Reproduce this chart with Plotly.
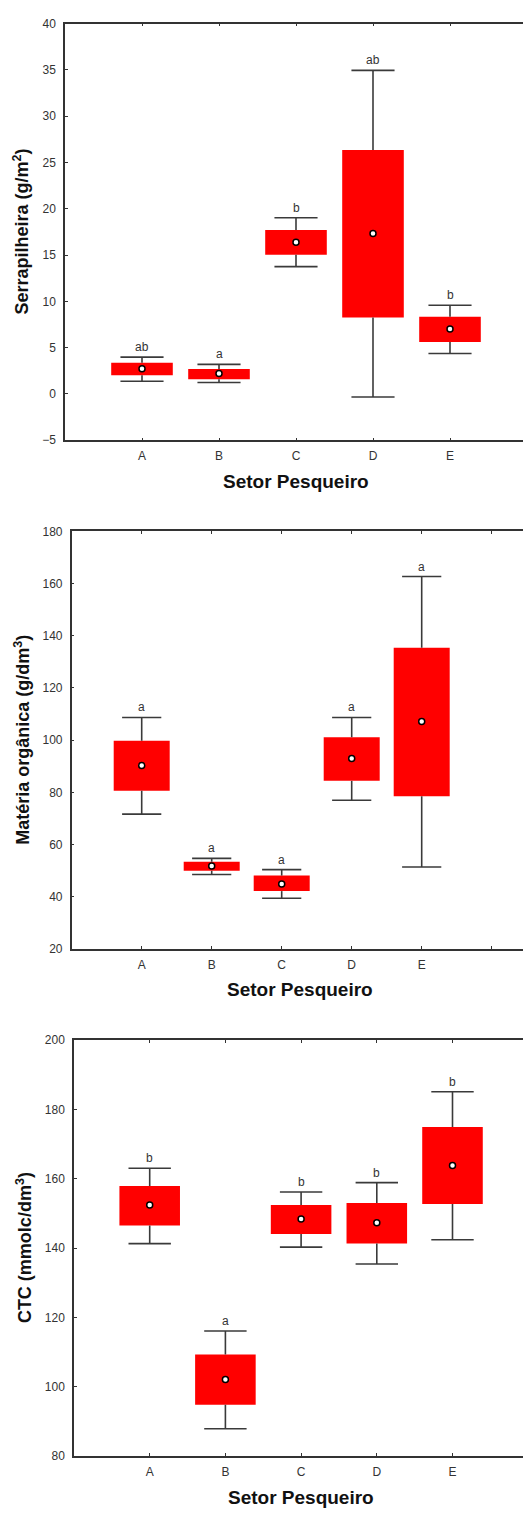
import plotly.graph_objects as go

categories = ["A", "B", "C", "D", "E"]

# Panel 1: Serrapilheira (g/m²)
p1_upper = [3.98, 3.2, 19.03, 34.94, 9.58]
p1_q3 = [3.37, 2.70, 17.71, 26.34, 8.33]
p1_mean = [2.73, 2.2, 16.39, 17.32, 7.01]
p1_q1 = [2.02, 1.59, 15.04, 8.26, 5.62]
p1_lower = [1.38, 1.24, 13.75, -0.33, 4.37]
p1_letters = ["ab", "a", "b", "ab", "b"]

# Panel 2: Matéria orgânica (g/dm³)
p2_upper = [108.7, 54.7, 50.4, 108.7, 162.7]
p2_q3 = [99.75, 53.4, 48.1, 101.1, 135.4]
p2_mean = [90.25, 51.8, 44.9, 93.0, 107.2]
p2_q1 = [80.6, 50.0, 42.15, 84.4, 78.5]
p2_lower = [71.65, 48.5, 39.4, 77.0, 51.4]
p2_letters = ["a", "a", "a", "a", "a"]

# Panel 3: CTC (mmolc/dm³)
p3_upper = [163.05, 116.1, 156.2, 158.9, 185.1]
p3_q3 = [157.9, 109.3, 152.4, 153.0, 174.9]
p3_mean = [152.4, 102.1, 148.4, 147.3, 163.8]
p3_q1 = [146.5, 94.8, 144.1, 141.3, 152.7]
p3_lower = [141.3, 87.9, 140.3, 135.4, 142.4]
p3_letters = ["b", "a", "b", "b", "b"]

W, H = 523, 1515
FONT = "Liberation Sans, Arial, sans-serif"
TXT = "#333333"
RED = "#FF0000"
WHISK = "#3a3a3a"

panels = [
    dict(upper=p1_upper, q3=p1_q3, mean=p1_mean, q1=p1_q1, lower=p1_lower, letters=p1_letters,
         ytitle="Serrapilheira (g/m<sup>2</sup>)", yrange=[-5, 40], dtick=5,
         left=65, top=16.7, bottom=437.3, step=77, ytx=21.7, xtx=296, xty=479),
    dict(upper=p2_upper, q3=p2_q3, mean=p2_mean, q1=p2_q1, lower=p2_lower, letters=p2_letters,
         ytitle="Matéria orgânica (g/dm<sup>3</sup>)", yrange=[20, 180], dtick=20,
         left=71.7, top=529.3, bottom=950.7, step=70, ytx=21.7, xtx=299.8, xty=991.7),
    dict(upper=p3_upper, q3=p3_q3, mean=p3_mean, q1=p3_q1, lower=p3_lower, letters=p3_letters,
         ytitle="CTC (mmolc/dm<sup>3</sup>)", yrange=[80, 200], dtick=20,
         left=74, top=1042.7, bottom=1462.7, step=75.7, ytx=24, xtx=300.5, xty=1504),
]

fig = go.Figure()
annotations = []
layout = {}
pos = list(range(1, len(categories) + 1))
box_w = 0.8
cap_hw = 0.28

for i, p in enumerate(panels):
    n = i + 1
    xa = "x" if n == 1 else f"x{n}"
    ya = "y" if n == 1 else f"y{n}"
    # whiskers (upper and lower) and caps
    wx, wy = [], []
    for k, x in enumerate(pos):
        wx += [x, x, None, x, x, None]
        wy += [p["q3"][k], p["upper"][k], None, p["q1"][k], p["lower"][k], None]
        wx += [x - cap_hw, x + cap_hw, None, x - cap_hw, x + cap_hw, None]
        wy += [p["upper"][k], p["upper"][k], None, p["lower"][k], p["lower"][k], None]
    fig.add_trace(go.Scatter(x=wx, y=wy, mode="lines", line=dict(color=WHISK, width=1.6),
                             xaxis=xa, yaxis=ya, showlegend=False, hoverinfo="skip"))
    # boxes
    fig.add_trace(go.Bar(x=pos, y=[a - b for a, b in zip(p["q3"], p["q1"])], base=p["q1"],
                         width=box_w, marker=dict(color=RED, line=dict(width=0)),
                         xaxis=xa, yaxis=ya, showlegend=False))
    # means
    fig.add_trace(go.Scatter(x=pos, y=p["mean"], mode="markers",
                             marker=dict(color="white", size=6, line=dict(color="black", width=1.5)),
                             xaxis=xa, yaxis=ya, showlegend=False))
    # letters
    for k, x in enumerate(pos):
        annotations.append(dict(x=x, y=p["upper"][k], xref=xa, yref=ya, text=p["letters"][k],
                                showarrow=False, yanchor="bottom", yshift=1,
                                font=dict(family=FONT, size=12, color=TXT)))
    # axis titles
    annotations.append(dict(x=p["ytx"] / W, y=1 - (p["top"] + p["bottom"]) / 2 / H,
                            xref="paper", yref="paper", text="<b>" + p["ytitle"] + "</b>",
                            textangle=-90, showarrow=False, xanchor="center", yanchor="middle",
                            font=dict(family=FONT, size=18, color="#111111")))
    annotations.append(dict(x=p["xtx"] / W, y=1 - p["xty"] / H, xref="paper", yref="paper",
                            text="<b>Setor Pesqueiro</b>", showarrow=False,
                            xanchor="center", yanchor="middle",
                            font=dict(family=FONT, size=19, color="#111111")))
    xr = (W - p["left"]) / p["step"]
    layout["xaxis" if n == 1 else f"xaxis{n}"] = dict(
        domain=[p["left"] / W, 1], range=[0, xr], anchor=ya,
        tickvals=pos, ticktext=categories, ticks="inside", ticklen=3, tickwidth=1,
        tickcolor="#333333", showline=True, linecolor="#333333", linewidth=1.5,
        minor=dict(tick0=0, dtick=1, ticks="inside", ticklen=3, tickwidth=1, tickcolor="#333333",
                   showgrid=False),
        mirror="ticks", showgrid=False, zeroline=False, ticklabelstandoff=4,
        tickfont=dict(family=FONT, size=12, color=TXT), fixedrange=True)
    layout["yaxis" if n == 1 else f"yaxis{n}"] = dict(
        domain=[1 - p["bottom"] / H, 1 - p["top"] / H], range=p["yrange"], anchor=xa,
        dtick=p["dtick"], tick0=p["yrange"][0], ticks="inside", ticklen=3, tickwidth=1,
        tickcolor="#333333", showline=True, linecolor="#333333", linewidth=1.5,
        mirror=False, showgrid=False, zeroline=False, ticklabelstandoff=5,
        tickfont=dict(family=FONT, size=12, color=TXT), fixedrange=True)

fig.update_layout(
    width=W, height=H, margin=dict(l=0, r=0, t=0, b=0),
    paper_bgcolor="white", plot_bgcolor="white", barmode="overlay",
    annotations=annotations, showlegend=False, **layout)

fig.write_html("out.html", config={"displayModeBar": False})
